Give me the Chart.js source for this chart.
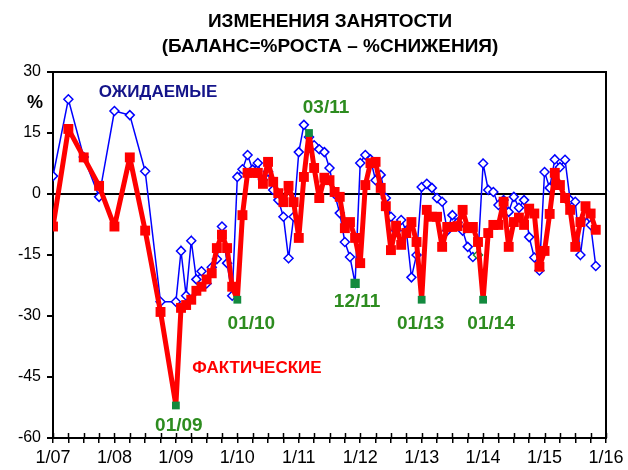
<!DOCTYPE html>
<html lang="ru">
<head>
  <meta charset="UTF-8">
  <title>Изменения занятости</title>
  <script src="https://cdn.jsdelivr.net/npm/chart.js"></script>
  <style>
    body { margin: 0; background: #fff; }
    #wrap { width: 628px; height: 470px; }
  </style>
</head>
<body>
  <div id="wrap"><canvas id="chart"></canvas></div>

  <script>
    // даты: до 2009 поквартально, дальше помесячно
    const dates = [
      '01/07','04/07','07/07','10/07','01/08','04/08','07/08','10/08',
      '01/09','02/09','03/09','04/09','05/09','06/09','07/09','08/09','09/09','10/09','11/09','12/09',
      '01/10','02/10','03/10','04/10','05/10','06/10','07/10','08/10','09/10','10/10','11/10','12/10',
      '01/11','02/11','03/11','04/11','05/11','06/11','07/11','08/11','09/11','10/11','11/11','12/11',
      '01/12','02/12','03/12','04/12','05/12','06/12','07/12','08/12','09/12','10/12','11/12','12/12',
      '01/13','02/13','03/13','04/13','05/13','06/13','07/13','08/13','09/13','10/13','11/13','12/13',
      '01/14','02/14','03/14','04/14','05/14','06/14','07/14','08/14','09/14','10/14','11/14','12/14',
      '01/15','02/15','03/15','04/15','05/15','06/15','07/15','08/15','09/15','10/15','11/15'
    ];

    const actual = [
      -8, 16, 9, 2, -8, 9, -9, -29,
      -52, -28, -27.3, -26, -23.8, -22.8, -21, -19.5, -13.3, -10, -13.3, -22.8,
      -26, -5.2, 5.2, 5.2, 5.2, 2.5, 7.9, 3, 0.2, -2, 2, -2,
      -10.8, 4.2, 15, 6.4, -1, 4, 3.4, 0.5, -0.7, -8.4, -6.9, -10.8,
      -17, 2.2, 7.6, 7.9, 1.5, -3, -13.8, -7.8, -12.5, -9.6, -6.9, -11.8,
      -26, -3.9, -5.6, -5.6, -13, -8.1, -8.1, -7.9, -3.9, -8.4, -8.1, -11.8,
      -26, -9.6, -7.6, -7.6, -1.9, -13, -6.9, -5.8, -7.6, -3.6, -4.8, -17.9,
      -14, -4.9, 5.2, 2.2, -1, -3.9, -13, -6.9, -3, -4.8, -8.8
    ];

    const expected = [
      4.4, 23.3, 9.1, -0.7, 20.4, 19.4, 5.6, -26.5,
      -26.5, -14, -25, -11.5, -21, -19, -22, -18, -16, -8, -17, -25,
      4.2, 6.1, 9.6, 6, 7.6, 3.5, 5.5, 1, -1.5, -5.6, -15.8, -5.6,
      10.3, 17, 14, 12, 11, 10.3, 6.4, 0, -4.7, -11.8, -15.5, -22,
      7.6, 9.6, 8.5, 3.4, 4.7, -1, -5.6, -9, -6.4, -9, -20.5, -15,
      1.7, 2.5, 1.5, -1, -1.9, -9, -5.2, -7, -9, -13, -15.5, -15,
      7.5, 1, 0.5, -2.7, -1.5, -4.4, -0.7, -3.4, -1.5, -10.6, -15.6, -18.8,
      5.4, 1.5, 8.5, 6.6, 8.4, -1.5, -1.9, -15, -5.2, -7.6, -17.7
    ];

    // отмеченные зелёным точки
    const actualMarks = ['01/09', '01/10', '03/11', '01/13', '01/14'];
    const expectedMarks = ['12/11'];
    const expectedGreenEdge = ['12/13'];

    const yTicks = [30, 15, 0, -15, -30, -45, -60];
    const yearLabels = ['1/07','1/08','1/09','1/10','1/11','1/12','1/13','1/14','1/15','1/16'];

    const GREEN = '#138a3e';
    const GREEN_TEXT = '#2d8c1f';
    const FONT = '"Liberation Sans", Arial, sans-serif';

    function monthIndex(d) {
      const [m, y] = d.split('/').map(Number);
      return (y - 7) * 12 + (m - 1);
    }

    const actualPts = dates.map((d, i) => ({ x: monthIndex(d), y: actual[i] }));
    const expectedPts = dates.map((d, i) => ({ x: monthIndex(d), y: expected[i] }));

    const decor = {
      id: 'decor',
      beforeDatasetsDraw(chart) {
        const { ctx, chartArea: a, scales: { x, y } } = chart;
        ctx.save();
        ctx.strokeStyle = '#000';
        ctx.lineWidth = 2;
        ctx.strokeRect(a.left, a.top, a.width, a.height);
        // нулевая линия
        const y0 = Math.round(y.getPixelForValue(0));
        ctx.beginPath();
        ctx.moveTo(a.left, y0);
        ctx.lineTo(a.right, y0);
        ctx.stroke();
        // внутренние засечки на оси X
        ctx.lineWidth = 1.5;
        for (let v = 0; v <= 108; v += 3) {
          const px = Math.round(x.getPixelForValue(v)) + 0.5;
          ctx.beginPath();
          ctx.moveTo(px, a.bottom);
          ctx.lineTo(px, a.bottom - 5);
          ctx.stroke();
        }
        ctx.restore();
      },
      afterDatasetsDraw(chart) {
        const { ctx, chartArea: a, scales: { x, y } } = chart;
        ctx.save();
        ctx.textAlign = 'center';
        ctx.textBaseline = 'middle';

        // заголовок
        ctx.fillStyle = '#000';
        ctx.font = 'bold 19px "Liberation Sans Narrow", ' + FONT;
        ctx.fillText('ИЗМЕНЕНИЯ ЗАНЯТОСТИ', 330, 22);
        ctx.fillText('(БАЛАНС=%РОСТА – %СНИЖЕНИЯ)', 330, 47);

        ctx.font = 'bold 18px ' + FONT;
        ctx.fillText('%', 35, 103);

        ctx.fillStyle = '#14148a';
        ctx.font = 'bold 17px ' + FONT;
        ctx.fillText('ОЖИДАЕМЫЕ', 158, 92);

        ctx.fillStyle = '#ff0000';
        ctx.fillText('ФАКТИЧЕСКИЕ', 257, 368);

        // подписи зелёных точек
        ctx.fillStyle = GREEN_TEXT;
        ctx.font = 'bold 19px ' + FONT;
        const notes = [
          ['01/09', actual, 3, 20],
          ['01/10', actual, 14, 24],
          ['03/11', actual, 17, -25],
          ['12/11', expected, 2, 18],
          ['01/13', actual, -1, 24],
          ['01/14', actual, 8, 24]
        ];
        notes.forEach(([d, arr, dx, dy]) => {
          const i = dates.indexOf(d);
          const px = x.getPixelForValue(monthIndex(d));
          const py = y.getPixelForValue(arr[i]);
          ctx.fillText(d, px + dx, py + dy);
        });
        ctx.restore();
      }
    };

    new Chart(document.getElementById('chart'), {
      type: 'line',
      data: {
        datasets: [
          {
            label: 'ФАКТИЧЕСКИЕ',
            data: actualPts,
            borderColor: '#ff0000',
            borderWidth: 5,
            borderJoinStyle: 'round',
            pointStyle: 'rect',
            pointRadius: dates.map(d => actualMarks.includes(d) ? 5.5 : 7),
            pointBackgroundColor: dates.map(d => actualMarks.includes(d) ? GREEN : '#ff0000'),
            pointBorderColor: dates.map(d => actualMarks.includes(d) ? GREEN : '#ff0000'),
            pointBorderWidth: 0,
            tension: 0
          },
          {
            label: 'ОЖИДАЕМЫЕ',
            data: expectedPts,
            borderColor: '#0000ff',
            borderWidth: 1.5,
            pointStyle: dates.map(d => expectedMarks.includes(d) ? 'rect' : 'rectRot'),
            pointRadius: dates.map(d => expectedMarks.includes(d) ? 5.5 : 4.5),
            pointBackgroundColor: dates.map(d => expectedMarks.includes(d) ? GREEN : '#ffffff'),
            pointBorderColor: dates.map(d => expectedMarks.includes(d) || expectedGreenEdge.includes(d) ? GREEN : '#0000ff'),
            pointBorderWidth: 1.5,
            tension: 0
          }
        ]
      },
      options: {
        responsive: true,
        maintainAspectRatio: false,
        animation: false,
        layout: { padding: { top: 72, right: 22, left: 0, bottom: 0 } },
        plugins: { legend: { display: false }, tooltip: { enabled: false } },
        scales: {
          x: {
            type: 'linear',
            min: 0,
            max: 108,
            afterFit(s) { s.height = 32; },
            afterBuildTicks(s) {
              s.ticks = [];
              for (let v = 0; v <= 108; v += 3) s.ticks.push({ value: v });
            },
            border: { display: false },
            grid: { drawOnChartArea: false, tickLength: 5, color: '#000', lineWidth: 1.5 },
            ticks: {
              autoSkip: false,
              maxRotation: 0,
              padding: 4,
              color: '#000',
              font: { family: FONT, size: 18 },
              callback: v => v % 12 === 0 ? yearLabels[v / 12] : ''
            }
          },
          y: {
            min: -60,
            max: 30,
            afterFit(s) { s.width = 53; },
            afterBuildTicks(s) { s.ticks = yTicks.map(v => ({ value: v })); },
            border: { display: false },
            grid: { drawOnChartArea: false, tickLength: 6, color: '#000', lineWidth: 2 },
            ticks: {
              color: '#000',
              padding: 6,
              font: { family: FONT, size: 16 }
            }
          }
        }
      },
      plugins: [decor]
    });
  </script>
</body>
</html>
